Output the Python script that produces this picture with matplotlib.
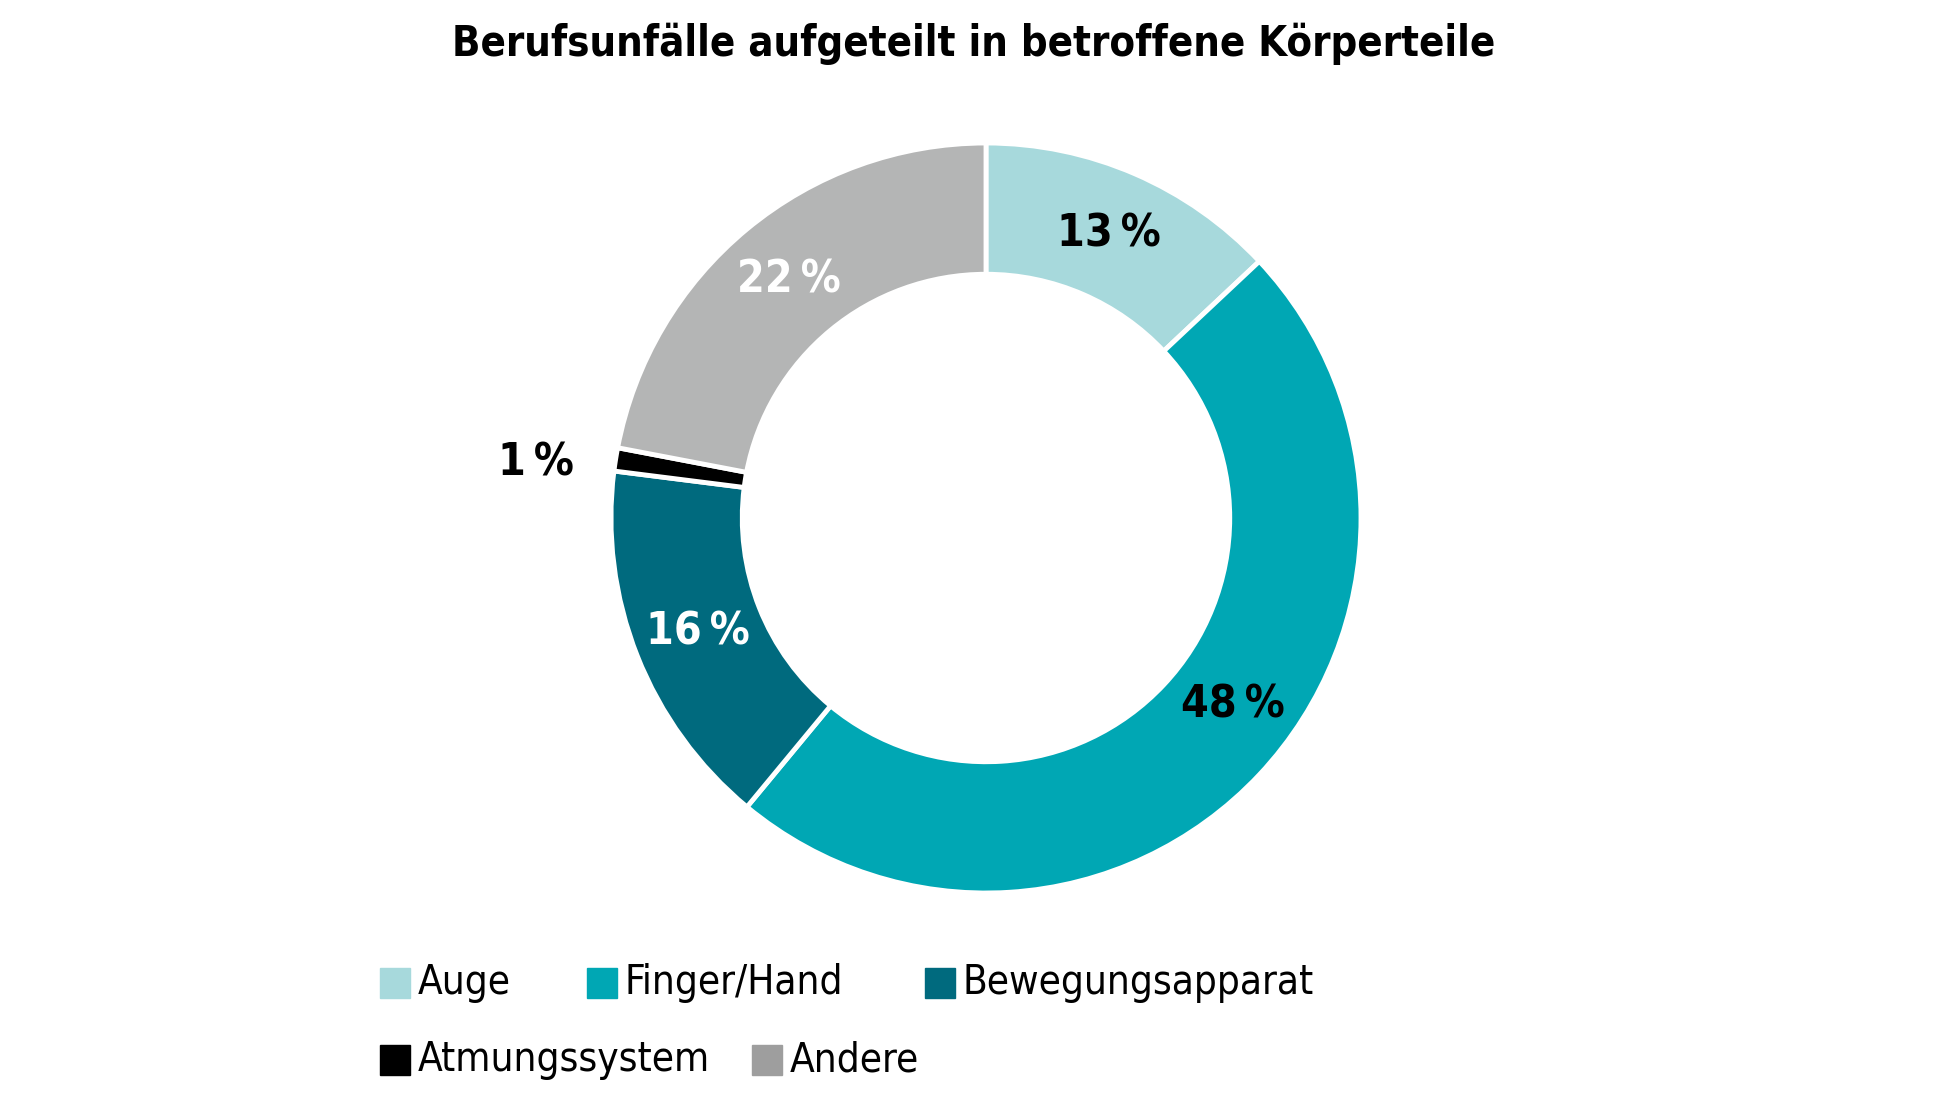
import matplotlib
matplotlib.use('Agg')
import numpy as np
import matplotlib.pyplot as plt
from matplotlib import font_manager as fm
from matplotlib.patches import Rectangle

# Daten
categories = ['Auge', 'Finger/Hand', 'Bewegungsapparat', 'Atmungssystem', 'Andere']
values = [13, 48, 16, 1, 22]
colors = ['#a7d9dc', '#00a7b4', '#006a7e', '#000000', '#b4b5b5']
legend_colors = ['#a7d9dc', '#00a7b4', '#006a7e', '#000000', '#9e9e9e']
label_colors = ['black', 'black', 'white', 'black', 'white']
title = 'Berufsunfälle aufgeteilt in betroffene Körperteile'

# Verschiebung der Beschriftungen (Grad) wie im Original
label_shift = [0, 6, 0, 2, 0]


# schmale Schrift suchen (Narrow / Condensed), sonst Standard
def find_font(bold):
    files = [f.fname for f in fm.fontManager.ttflist]
    wanted = ['LiberationSansNarrow-Bold', 'DejaVuSansCondensed-Bold'] if bold else \
             ['LiberationSansNarrow-Regular', 'DejaVuSansCondensed.']
    for key in wanted:
        for f in files:
            if key in f.replace(' ', ''):
                return fm.FontProperties(fname=f)
    return fm.FontProperties(family='DejaVu Sans', weight='bold' if bold else 'normal')


fp_bold = find_font(True)
fp_reg = find_font(False)

W, H = 1948, 1096
fig = plt.figure(figsize=(W / 100, H / 100), dpi=100)

# Donut-Achse (Mitte ~ (986, 518) px, Radius ~375 px)
cx, cy, R = 986, 518, 375
ax = fig.add_axes([(cx - R) / W, (H - cy - R) / H, 2 * R / W, 2 * R / H])
wedges, _ = ax.pie(values, colors=colors, startangle=90, counterclock=False,
                   radius=1, wedgeprops=dict(width=0.35, edgecolor='white', linewidth=3.5))
ax.set_xlim(-1, 1)
ax.set_ylim(-1, 1)
ax.axis('off')

for w, v, c, s in zip(wedges, values, label_colors, label_shift):
    mid = np.radians((w.theta1 + w.theta2) / 2 + s)
    r = 0.825 if v > 5 else 1.21  # kleines Segment: Beschriftung aussen
    ax.text(r * np.cos(mid), r * np.sin(mid), f'{v}\u2009%', ha='center', va='center',
            fontproperties=fp_bold, fontsize=32, color=c, clip_on=False)

fig.text(0.5, 1 - 44 / H, title, ha='center', va='center', fontproperties=fp_bold, fontsize=30)

# Legende (Fliesslayout wie im Original)
leg_pos = [(380, 983), (587, 983), (925, 983), (380, 1060), (752, 1060)]
sq = 30
for (x, y), name, col in zip(leg_pos, categories, legend_colors):
    fig.patches.append(Rectangle((x / W, (H - y - sq / 2) / H), sq / W, sq / H,
                                 transform=fig.transFigure, color=col))
    fig.text((x + sq + 8) / W, (H - y) / H, name, ha='left', va='center',
             fontproperties=fp_reg, fontsize=29)

fig.savefig('out.png', dpi=100, facecolor='white')
